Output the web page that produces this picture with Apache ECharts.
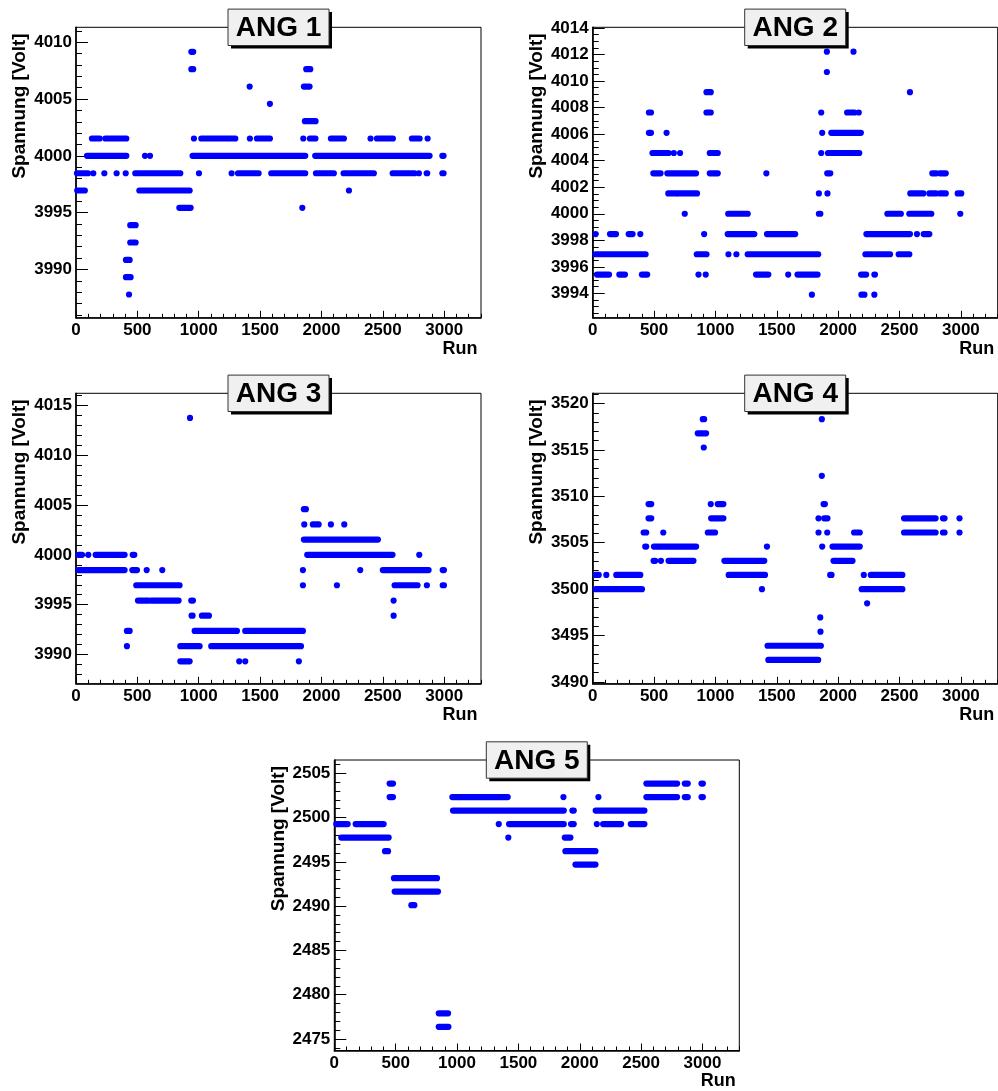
<!DOCTYPE html>
<html>
<head>
<meta charset="utf-8">
<title>ANG Spannung vs Run</title>
<script src="https://cdn.jsdelivr.net/npm/echarts@6/dist/echarts.min.js"></script>
<style>
  html, body { margin: 0; padding: 0; background: #fff; }
  #chart { width: 998px; height: 1091px; }
</style>
</head>
<body>
<div id="chart"></div>
<script>
// Each entry: [first run, last run, voltage]; a dot has first == last.
const ang1 = [
  [940, 955, 4009.16],
  [940, 955, 4007.63], [1876, 1909, 4007.63],
  [1415, 1415, 4006.10], [1857, 1903, 4006.10],
  [1580, 1580, 4004.58],
  [1865, 1952, 4003.05],
  [130, 193, 4001.53], [239, 410, 4001.53], [961, 961, 4001.53], [1021, 1298, 4001.53],
  [1417, 1417, 4001.53], [1474, 1580, 4001.53], [1852, 1852, 4001.53], [1906, 1951, 4001.53],
  [2077, 2183, 4001.53], [2400, 2400, 4001.53], [2452, 2582, 4001.53], [2737, 2800, 4001.53],
  [2865, 2865, 4001.53],
  [90, 410, 4000.00], [562, 562, 4000.00], [603, 603, 4000.00], [950, 1868, 4000.00],
  [1949, 2881, 4000.00], [2985, 2995, 4000.00],
  [8, 98, 3998.47], [141, 141, 3998.47], [231, 231, 3998.47], [331, 331, 3998.47],
  [405, 405, 3998.47], [483, 850, 3998.47], [1002, 1002, 3998.47], [1268, 1268, 3998.47],
  [1320, 1488, 3998.47], [1591, 1868, 3998.47], [1955, 2101, 3998.47], [2180, 2427, 3998.47],
  [2580, 2759, 3998.47], [2794, 2794, 3998.47], [2857, 2862, 3998.47], [2985, 2995, 3998.47],
  [10, 72, 3996.95], [516, 926, 3996.95], [2224, 2224, 3996.95],
  [842, 934, 3995.42], [1844, 1844, 3995.42],
  [442, 486, 3993.90],
  [442, 486, 3992.37],
  [407, 437, 3990.84],
  [407, 445, 3989.32],
  [432, 432, 3987.79]
];

const ang2 = [
  [1908, 1908, 4012.21], [2125, 2125, 4012.21],
  [1908, 1908, 4010.68],
  [927, 962, 4009.16], [2585, 2585, 4009.16],
  [458, 475, 4007.63], [927, 962, 4007.63], [1862, 1862, 4007.63], [2073, 2133, 4007.63],
  [2168, 2168, 4007.63],
  [458, 475, 4006.10], [602, 602, 4006.10], [1870, 1870, 4006.10], [1944, 2185, 4006.10],
  [487, 618, 4004.58], [661, 661, 4004.58], [712, 712, 4004.58], [954, 1019, 4004.58],
  [1862, 1862, 4004.58], [1917, 2172, 4004.58],
  [494, 553, 4003.05], [608, 842, 4003.05], [954, 1019, 4003.05], [1415, 1415, 4003.05],
  [1911, 1936, 4003.05], [2767, 2800, 4003.05], [2830, 2877, 4003.05],
  [616, 680, 4001.53], [700, 850, 4001.53], [1843, 1843, 4001.53], [1913, 1913, 4001.53],
  [2588, 2694, 4001.53], [2743, 2797, 4001.53], [2830, 2877, 4001.53], [2974, 3003, 4001.53],
  [750, 750, 4000.00], [1104, 1263, 4000.00], [1843, 1855, 4000.00], [2401, 2511, 4000.00],
  [2580, 2759, 4000.00], [2995, 2995, 4000.00],
  [24, 24, 3998.47], [141, 190, 3998.47], [293, 325, 3998.47], [388, 388, 3998.47],
  [908, 908, 3998.47], [1100, 1317, 3998.47], [1420, 1650, 3998.47], [2230, 2585, 3998.47],
  [2642, 2642, 3998.47], [2697, 2743, 3998.47],
  [22, 431, 3996.95], [848, 927, 3996.95], [1106, 1106, 3996.95], [1171, 1171, 3996.95],
  [1263, 1837, 3996.95], [2222, 2423, 3996.95], [2493, 2580, 3996.95],
  [35, 133, 3995.42], [217, 263, 3995.42], [401, 444, 3995.42], [862, 862, 3995.42],
  [921, 921, 3995.42], [1331, 1431, 3995.42], [1593, 1593, 3995.42], [1669, 1832, 3995.42],
  [2187, 2228, 3995.42], [2295, 2300, 3995.42],
  [1786, 1786, 3993.90], [2190, 2214, 3993.90], [2295, 2295, 3993.90]
];

const ang3 = [
  [929, 929, 4013.73],
  [1857, 1873, 4004.58],
  [1860, 1860, 4003.05], [1930, 1977, 4003.05], [2077, 2077, 4003.05], [2186, 2186, 4003.05],
  [1857, 2460, 4001.53],
  [19, 49, 4000.00], [100, 100, 4000.00], [160, 396, 4000.00], [462, 475, 4000.00],
  [1884, 2579, 4000.00], [2797, 2797, 4000.00],
  [19, 396, 3998.47], [459, 497, 3998.47], [576, 576, 3998.47], [703, 703, 3998.47],
  [1849, 1849, 3998.47], [2316, 2316, 3998.47], [2500, 2873, 3998.47], [2988, 2998, 3998.47],
  [491, 844, 3996.95], [1849, 1849, 3996.95], [2126, 2126, 3996.95], [2596, 2783, 3996.95],
  [2859, 2859, 3996.95], [2988, 2998, 3996.95],
  [505, 590, 3995.42], [612, 836, 3995.42], [939, 953, 3995.42], [2588, 2588, 3995.42],
  [942, 950, 3993.90], [1026, 1083, 3993.90], [2588, 2588, 3993.90],
  [415, 437, 3992.37], [967, 1311, 3992.37], [1379, 1849, 3992.37],
  [415, 415, 3990.84], [850, 1007, 3990.84], [1102, 1833, 3990.84],
  [850, 926, 3989.32], [1330, 1330, 3989.32], [1379, 1379, 3989.32], [1816, 1816, 3989.32]
];

const ang4 = [
  [897, 908, 3518.31], [1867, 1867, 3518.31],
  [856, 924, 3516.79],
  [905, 905, 3515.26],
  [1867, 1867, 3512.21],
  [455, 477, 3509.16], [962, 962, 3509.16], [1019, 1065, 3509.16], [1881, 1892, 3509.16],
  [455, 477, 3507.63], [965, 1065, 3507.63], [1840, 1840, 3507.63], [1886, 1913, 3507.63],
  [2537, 2794, 3507.63], [2854, 2867, 3507.63], [2989, 2989, 3507.63],
  [415, 436, 3506.10], [575, 575, 3506.10], [938, 997, 3506.10], [1840, 1840, 3506.10],
  [1911, 1911, 3506.10], [2130, 2176, 3506.10], [2537, 2794, 3506.10], [2854, 2867, 3506.10],
  [2989, 2989, 3506.10],
  [428, 436, 3504.58], [499, 843, 3504.58], [1420, 1420, 3504.58], [1870, 1870, 3504.58],
  [1954, 2176, 3504.58],
  [496, 509, 3503.05], [556, 556, 3503.05], [618, 821, 3503.05], [1073, 1398, 3503.05],
  [1962, 2117, 3503.05],
  [24, 49, 3501.53], [111, 111, 3501.53], [192, 388, 3501.53], [1108, 1404, 3501.53],
  [1935, 1946, 3501.53], [2209, 2209, 3501.53], [2266, 2523, 3501.53],
  [24, 401, 3500.00], [1379, 1379, 3500.00], [2192, 2523, 3500.00],
  [2236, 2236, 3498.47],
  [1854, 1854, 3496.95],
  [1856, 1856, 3495.42],
  [1425, 1859, 3493.90],
  [1431, 1837, 3492.37]
];

const ang5 = [
  [451, 478, 2503.84], [2543, 2793, 2503.84], [2856, 2880, 2503.84], [2992, 3003, 2503.84],
  [451, 478, 2502.31], [962, 1413, 2502.31], [1867, 1867, 2502.31], [2152, 2152, 2502.31],
  [2543, 2793, 2502.31], [2856, 2880, 2502.31], [2992, 3003, 2502.31],
  [967, 1870, 2500.79], [1940, 1951, 2500.79], [2130, 2527, 2500.79],
  [16, 109, 2499.26], [174, 402, 2499.26], [1340, 1340, 2499.26], [1424, 1870, 2499.26],
  [1929, 1951, 2499.26], [2139, 2139, 2499.26], [2190, 2337, 2499.26], [2416, 2527, 2499.26],
  [57, 443, 2497.74], [1418, 1418, 2497.74], [1878, 1924, 2497.74],
  [413, 438, 2496.21], [1883, 2128, 2496.21],
  [1965, 2128, 2494.69],
  [486, 837, 2493.16],
  [492, 845, 2491.64],
  [628, 652, 2490.11],
  [851, 927, 2477.90],
  [851, 930, 2476.37]
];

// Axis extents and tick labels
const runRange = [0, 3300];
const runTicks = [0, 500, 1000, 1500, 2000, 2500, 3000];
const ang1Range = [3985.74, 4011.32];
const ang1Ticks = [3990, 3995, 4000, 4005, 4010];
const ang2Range = [3992.16, 4014.05];
const ang2Ticks = [3994, 3996, 3998, 4000, 4002, 4004, 4006, 4008, 4010, 4012, 4014];
const ang3Range = [3987.07, 4016.2];
const ang3Ticks = [3990, 3995, 4000, 4005, 4010, 4015];
const ang4Range = [3489.8, 3521.1];
const ang4Ticks = [3490, 3495, 3500, 3505, 3510, 3515, 3520];
const ang5Range = [2473.7, 2506.5];
const ang5Ticks = [2475, 2480, 2485, 2490, 2495, 2500, 2505];

const titles = ['ANG 1', 'ANG 2', 'ANG 3', 'ANG 4', 'ANG 5'];
const yTitle = 'Spannung [Volt]';
const xTitle = 'Run';

const FONT = '"Liberation Sans", Arial, Helvetica, sans-serif';
const DOT_R = 3.1;
const FRAME_W = 405, FRAME_H = 290.5;

const panels = [
  { data: ang1, range: ang1Range, ticks: ang1Ticks, minorStep: 1,   left: 76,    top: 27.3 },
  { data: ang2, range: ang2Range, ticks: ang2Ticks, minorStep: 0.5, left: 592.7, top: 27.3 },
  { data: ang3, range: ang3Range, ticks: ang3Ticks, minorStep: 1,   left: 76,    top: 393.3 },
  { data: ang4, range: ang4Range, ticks: ang4Ticks, minorStep: 1,   left: 592.7, top: 393.3 },
  { data: ang5, range: ang5Range, ticks: ang5Ticks, minorStep: 1,   left: 334.3, top: 760 }
];

function stepsWithin(lo, hi, step) {
  const out = [];
  for (let v = Math.ceil(lo / step - 1e-9) * step; v <= hi + 1e-9; v += step) {
    out.push(Math.round(v * 1000) / 1000);
  }
  return out;
}

const runMinor = stepsWithin(runRange[0], runRange[1], 100);

const labelStyle = {
  fontSize: 17, fontWeight: 'bold', fontFamily: FONT, color: '#000',
  formatter: function (v) { return String(v); }
};

const grids = [], xAxes = [], yAxes = [], series = [], graphics = [];

panels.forEach((p, i) => {
  grids.push({
    left: p.left, top: p.top, width: FRAME_W, height: FRAME_H,
    show: true, borderColor: '#000', borderWidth: 1, backgroundColor: 'transparent'
  });
  // major x axis with labels
  xAxes.push({
    gridIndex: i, type: 'value', position: 'bottom', min: runRange[0], max: runRange[1],
    axisLine: { show: true, onZero: false, lineStyle: { color: '#000', width: 1.6 } },
    axisTick: { show: true, inside: true, length: 7, customValues: runTicks, lineStyle: { color: '#000', width: 1 } },
    axisLabel: Object.assign({ show: true, margin: 4, customValues: runTicks }, labelStyle),
    splitLine: { show: false }
  });
  // minor x ticks
  xAxes.push({
    gridIndex: i, type: 'value', position: 'bottom', min: runRange[0], max: runRange[1],
    axisLine: { show: false, onZero: false },
    axisTick: { show: true, inside: true, length: 4, customValues: runMinor, lineStyle: { color: '#000', width: 1 } },
    axisLabel: { show: false },
    splitLine: { show: false }
  });
  // major y axis with labels
  yAxes.push({
    gridIndex: i, type: 'value', position: 'left', min: p.range[0], max: p.range[1],
    axisLine: { show: true, onZero: false, lineStyle: { color: '#000', width: 1.6 } },
    axisTick: { show: true, inside: true, length: 12, customValues: p.ticks, lineStyle: { color: '#000', width: 1 } },
    axisLabel: Object.assign({ show: true, margin: 4, customValues: p.ticks }, labelStyle),
    splitLine: { show: false }
  });
  // minor y ticks
  yAxes.push({
    gridIndex: i, type: 'value', position: 'left', min: p.range[0], max: p.range[1],
    axisLine: { show: false, onZero: false },
    axisTick: { show: true, inside: true, length: 6, customValues: stepsWithin(p.range[0], p.range[1], p.minorStep), lineStyle: { color: '#000', width: 1 } },
    axisLabel: { show: false },
    splitLine: { show: false }
  });

  series.push({
    type: 'custom',
    xAxisIndex: 2 * i,
    yAxisIndex: 2 * i,
    data: p.data,
    encode: { x: [0, 1], y: 2 },
    silent: true,
    renderItem: function (params, api) {
      const a = api.coord([api.value(0), api.value(2)]);
      const b = api.coord([api.value(1), api.value(2)]);
      return {
        type: 'rect',
        shape: { x: a[0] - DOT_R, y: a[1] - DOT_R, width: b[0] - a[0] + 2 * DOT_R, height: 2 * DOT_R, r: DOT_R },
        style: { fill: '#0000ff' }
      };
    }
  });

  const cx = p.left + FRAME_W / 2;
  const boxW = 101, boxH = 36.4;
  // title box: shadow, box, text
  graphics.push({
    type: 'rect', z: 100,
    shape: { x: cx - boxW / 2 + 3, y: p.top - boxH / 2 + 3, width: boxW, height: boxH },
    style: { fill: '#000' }
  });
  graphics.push({
    type: 'rect', z: 101,
    shape: { x: cx - boxW / 2, y: p.top - boxH / 2, width: boxW, height: boxH },
    style: { fill: '#f0f0f0', stroke: '#333', lineWidth: 1 }
  });
  graphics.push({
    type: 'text', z: 102, x: cx, y: p.top + 1,
    style: { text: titles[i], font: 'bold 28px ' + FONT, fill: '#000', align: 'center', verticalAlign: 'middle' }
  });
  // y axis title
  graphics.push({
    type: 'text', z: 102, x: p.left - 56, y: p.top + 6, rotation: Math.PI / 2,
    style: { text: yTitle, font: 'bold 19px ' + FONT, fill: '#000', align: 'right', verticalAlign: 'middle' }
  });
  // x axis title
  graphics.push({
    type: 'text', z: 102, x: p.left + FRAME_W - 3.5, y: p.top + FRAME_H + 31,
    style: { text: xTitle, font: 'bold 18px ' + FONT, fill: '#000', align: 'right', verticalAlign: 'middle' }
  });
});

const chart = echarts.init(document.getElementById('chart'), null, { renderer: 'canvas' });
chart.setOption({
  backgroundColor: '#fff',
  animation: false,
  grid: grids,
  xAxis: xAxes,
  yAxis: yAxes,
  series: series,
  graphic: graphics
});
</script>
</body>
</html>
